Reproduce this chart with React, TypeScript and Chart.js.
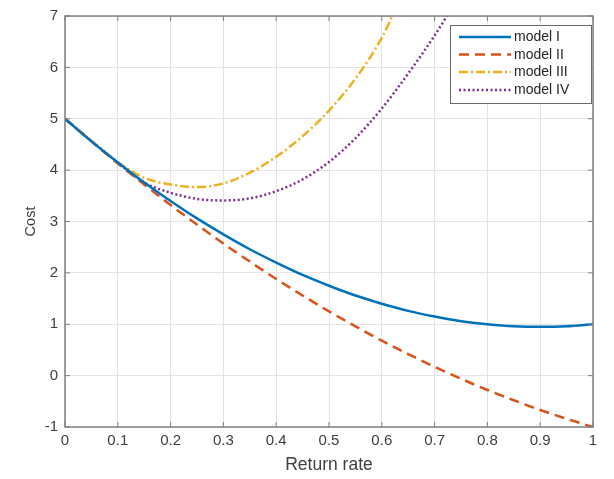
import React, { useEffect, useRef } from "react";
import { Chart, registerables } from "chart.js";

Chart.register(...registerables);

const xValues = [0, 0.05, 0.1, 0.15, 0.2, 0.25, 0.3, 0.35, 0.4, 0.45, 0.5, 0.55, 0.6, 0.65, 0.7, 0.75, 0.8, 0.85, 0.9, 0.95, 1];

const modelI = [5, 4.56, 4.15, 3.76, 3.4, 3.06, 2.75, 2.46, 2.2, 1.96, 1.75, 1.56, 1.4, 1.26, 1.15, 1.06, 1.0, 0.96, 0.95, 0.96, 1.0];
const modelII = [5, 4.56, 4.13, 3.72, 3.32, 2.94, 2.57, 2.22, 1.88, 1.56, 1.25, 0.96, 0.68, 0.42, 0.17, -0.06, -0.28, -0.48, -0.67, -0.84, -1.0];
const modelIII = [5, 4.57, 4.16, 3.85, 3.72, 3.67, 3.74, 3.95, 4.26, 4.66, 5.16, 5.78, 6.58, 7.7];
const modelIV = [5, 4.57, 4.15, 3.76, 3.56, 3.44, 3.41, 3.45, 3.59, 3.82, 4.16, 4.62, 5.2, 5.88, 6.62, 7.45];

const seriesNames = ["model I", "model II", "model III", "model IV"];
const seriesColors = ["#0072BD", "#D95319", "#EDB120", "#7E2F8E"];
const seriesDashes: number[][] = [[], [10, 6], [9, 3, 2, 3], [2, 2.5]];

const xTickStep = 0.1;
const yMin = -1;
const yMax = 7;
const xTitle = "Return rate";
const yTitle = "Cost";

const FONT = 'Arial, "Liberation Sans", Helvetica, sans-serif';
const TEXT_COLOR = "#404040";
const AXIS_COLOR = "#808080";
const GRID_COLOR = "#e3e3e3";

const matlabPlugin = {
  id: "matlabBox",
  afterDatasetsDraw(chart: any) {
    const { ctx, chartArea } = chart;
    const { left, right, top, bottom } = chartArea;
    const xs = chart.scales.x;
    const ys = chart.scales.y;
    ctx.save();
    ctx.strokeStyle = AXIS_COLOR;
    ctx.lineWidth = 1.5;
    ctx.setLineDash([]);
    ctx.strokeRect(left, top, right - left, bottom - top);
    const tl = 5;
    ctx.lineWidth = 1;
    ctx.beginPath();
    xs.ticks.forEach((t: any) => {
      const px = xs.getPixelForValue(t.value);
      ctx.moveTo(px, bottom);
      ctx.lineTo(px, bottom - tl);
      ctx.moveTo(px, top);
      ctx.lineTo(px, top + tl);
    });
    ys.ticks.forEach((t: any) => {
      const py = ys.getPixelForValue(t.value);
      ctx.moveTo(left, py);
      ctx.lineTo(left + tl, py);
      ctx.moveTo(right, py);
      ctx.lineTo(right - tl, py);
    });
    ctx.stroke();

    // legend
    const bx = 450, by = 25, bw = 141, bh = 78;
    ctx.fillStyle = "#ffffff";
    ctx.fillRect(bx, by, bw, bh);
    ctx.strokeStyle = "#6a6a6a";
    ctx.lineWidth = 1;
    ctx.strokeRect(bx + 0.5, by + 0.5, bw, bh);
    const rowY = [37, 54.5, 72, 90];
    ctx.font = `14px ${FONT}`;
    ctx.textBaseline = "middle";
    ctx.textAlign = "left";
    seriesNames.forEach((name, i) => {
      ctx.strokeStyle = seriesColors[i];
      ctx.lineWidth = 2.5;
      ctx.setLineDash(seriesDashes[i]);
      ctx.beginPath();
      ctx.moveTo(459, rowY[i]);
      ctx.lineTo(511, rowY[i]);
      ctx.stroke();
      ctx.setLineDash([]);
      ctx.fillStyle = "#262626";
      ctx.fillText(name, 514, rowY[i] + 0.5);
    });
    ctx.restore();
  },
};

export default function App() {
  const canvasRef = useRef<HTMLCanvasElement | null>(null);

  useEffect(() => {
    if (!canvasRef.current) return;
    const seriesValues = [modelI, modelII, modelIII, modelIV];
    const chart = new Chart(canvasRef.current, {
      type: "line",
      data: {
        datasets: seriesValues.map((vals, i) => ({
          label: seriesNames[i],
          data: vals.map((v, k) => ({ x: xValues[k], y: v })),
          borderColor: seriesColors[i],
          backgroundColor: seriesColors[i],
          borderWidth: 2.5,
          borderDash: seriesDashes[i],
          pointRadius: 0,
          fill: false,
          cubicInterpolationMode: "monotone" as const,
        })),
      },
      options: {
        responsive: false,
        animation: false,
        devicePixelRatio: 1,
        layout: { padding: { left: 0, top: 9, right: 21, bottom: 0 } },
        plugins: {
          legend: { display: false },
          tooltip: { enabled: false },
        },
        scales: {
          x: {
            type: "linear",
            min: 0,
            max: 1,
            ticks: {
              stepSize: xTickStep,
              color: TEXT_COLOR,
              font: { family: FONT, size: 15 },
              padding: 5,
              maxRotation: 0,
              callback: (v: any) => String(Math.round(Number(v) * 10) / 10),
            },
            grid: { color: GRID_COLOR, drawTicks: false, lineWidth: 1 },
            border: { display: false },
            title: {
              display: true,
              text: xTitle,
              color: TEXT_COLOR,
              font: { family: FONT, size: 17.5 },
              padding: { top: 0, bottom: 3.5 },
            },
            afterFit: (scale: any) => {
              scale.height = 52;
            },
          },
          y: {
            type: "linear",
            min: yMin,
            max: yMax,
            ticks: {
              stepSize: 1,
              color: TEXT_COLOR,
              font: { family: FONT, size: 15 },
              padding: 7,
            },
            grid: { color: GRID_COLOR, drawTicks: false, lineWidth: 1 },
            border: { display: false },
            title: {
              display: true,
              text: yTitle,
              color: TEXT_COLOR,
              font: { family: FONT, size: 14.5 },
              padding: { top: 22, bottom: 0 },
            },
            afterFit: (scale: any) => {
              scale.width = 65;
            },
          },
        },
      },
      plugins: [matlabPlugin],
    });
    return () => chart.destroy();
  }, []);

  return (
    <div style={{ position: "fixed", left: 0, top: 0, width: 614, height: 479, background: "#fff" }}>
      <canvas ref={canvasRef} width={614} height={479} />
    </div>
  );
}
